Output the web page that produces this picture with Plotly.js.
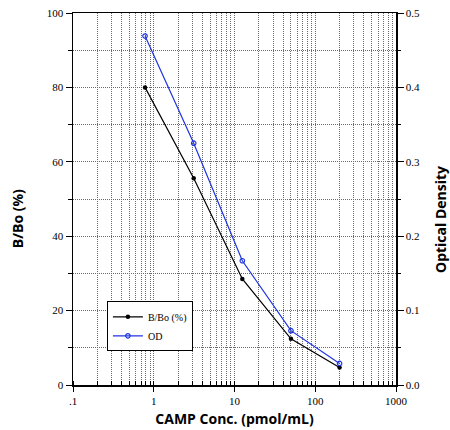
<!DOCTYPE html>
<html>
<head>
<meta charset="utf-8">
<script src="https://cdn.plot.ly/plotly-3.0.1.min.js"></script>
<style>html,body{margin:0;padding:0;background:#fff;}#chart{width:450px;height:430px;}</style>
</head>
<body>
<div id="chart"></div>
<script>
const concentrations = [0.78, 3.125, 12.5, 50, 200];
const bBoPercent = [80.0, 55.6, 28.5, 12.4, 4.7];
const opticalDensity = [0.469, 0.325, 0.167, 0.073, 0.029];
const xTickVals = [0.1, 1, 10, 100, 1000];
const xTickText = ['.1', '1', '10', '100', '1000'];
const seriesNames = ['B/Bo (%)', 'OD'];
const leftTitle = 'B/Bo (%)';
const rightTitle = 'Optical Density';
const xTitle = 'CAMP Conc. (pmol/mL)';

const serif = "'Liberation Serif', 'Times New Roman', serif";
const sans = "'Open Sans', 'Noto Sans', sans-serif";

const traces = [
  {
    x: concentrations, y: bBoPercent, name: seriesNames[0], type: 'scatter', mode: 'lines+markers',
    line: {color: '#000000', width: 1.2},
    marker: {symbol: 'circle', size: 4.5, color: '#000000'},
    yaxis: 'y'
  },
  {
    x: concentrations, y: opticalDensity, name: seriesNames[1], type: 'scatter', mode: 'lines+markers',
    line: {color: '#1f35e0', width: 1.2},
    marker: {symbol: 'circle-open', size: 4.5, color: '#1f35e0', line: {width: 1.2}},
    yaxis: 'y2'
  }
];

const gridCol = '#6a6a6a';
const gridDash = '1px,1px';
const titleFont = {family: sans, size: 14, color: '#000', weight: 'bold'};
const layout = {
  width: 450, height: 430,
  margin: {l: 73, r: 54, t: 13, b: 45},
  paper_bgcolor: '#ffffff', plot_bgcolor: '#ffffff',
  showlegend: true,
  legend: {
    x: 0.105, y: 0.225, xanchor: 'left', yanchor: 'top',
    bgcolor: '#ffffff', bordercolor: '#000000', borderwidth: 1,
    font: {family: serif, size: 10, color: '#000'},
    tracegroupgap: 0
  },
  xaxis: {
    type: 'log', range: [-1, 3],
    tickvals: xTickVals, ticktext: xTickText,
    ticks: 'outside', ticklen: 5, tickcolor: '#000',
    showline: true, linecolor: '#000', linewidth: 1.5, mirror: true,
    showgrid: true, gridcolor: gridCol, griddash: gridDash, gridwidth: 1,
    zeroline: false,
    tickfont: {family: serif, size: 11, color: '#000'},
    minor: {dtick: 'D1', ticks: 'inside', ticklen: 4, tickcolor: '#000', showgrid: true, gridcolor: gridCol, griddash: gridDash, gridwidth: 1},
    title: {text: xTitle, font: titleFont, standoff: 8}
  },
  yaxis: {
    range: [0, 100], dtick: 20,
    ticks: 'outside', ticklen: 6, tickcolor: '#000',
    showline: true, linecolor: '#000', linewidth: 1.5,
    showgrid: true, gridcolor: gridCol, griddash: gridDash, gridwidth: 1,
    zeroline: false,
    tickfont: {family: serif, size: 11, color: '#000'},
    minor: {dtick: 10, ticks: 'outside', ticklen: 4, tickcolor: '#000', showgrid: true, gridcolor: gridCol, griddash: gridDash, gridwidth: 1}
  },
  yaxis2: {
    overlaying: 'y', side: 'right', range: [0, 0.5], dtick: 0.1, tickformat: '.1f',
    ticks: 'outside', ticklen: 6, tickcolor: '#000',
    showline: true, linecolor: '#000', linewidth: 1.5,
    showgrid: false, zeroline: false,
    tickfont: {family: serif, size: 11, color: '#000'},
    minor: {dtick: 0.05, ticks: 'outside', ticklen: 3, tickcolor: '#000'}
  },
  annotations: [
    {text: leftTitle, xref: 'paper', yref: 'paper', x: -0.173, y: 0.446, textangle: -90,
     showarrow: false, xanchor: 'center', yanchor: 'middle', font: titleFont},
    {text: rightTitle, xref: 'paper', yref: 'paper', x: 1.136, y: 0.446, textangle: -90,
     showarrow: false, xanchor: 'center', yanchor: 'middle', font: titleFont}
  ]
};

Plotly.newPlot('chart', traces, layout, {displayModeBar: false, staticPlot: true});
</script>
</body>
</html>
